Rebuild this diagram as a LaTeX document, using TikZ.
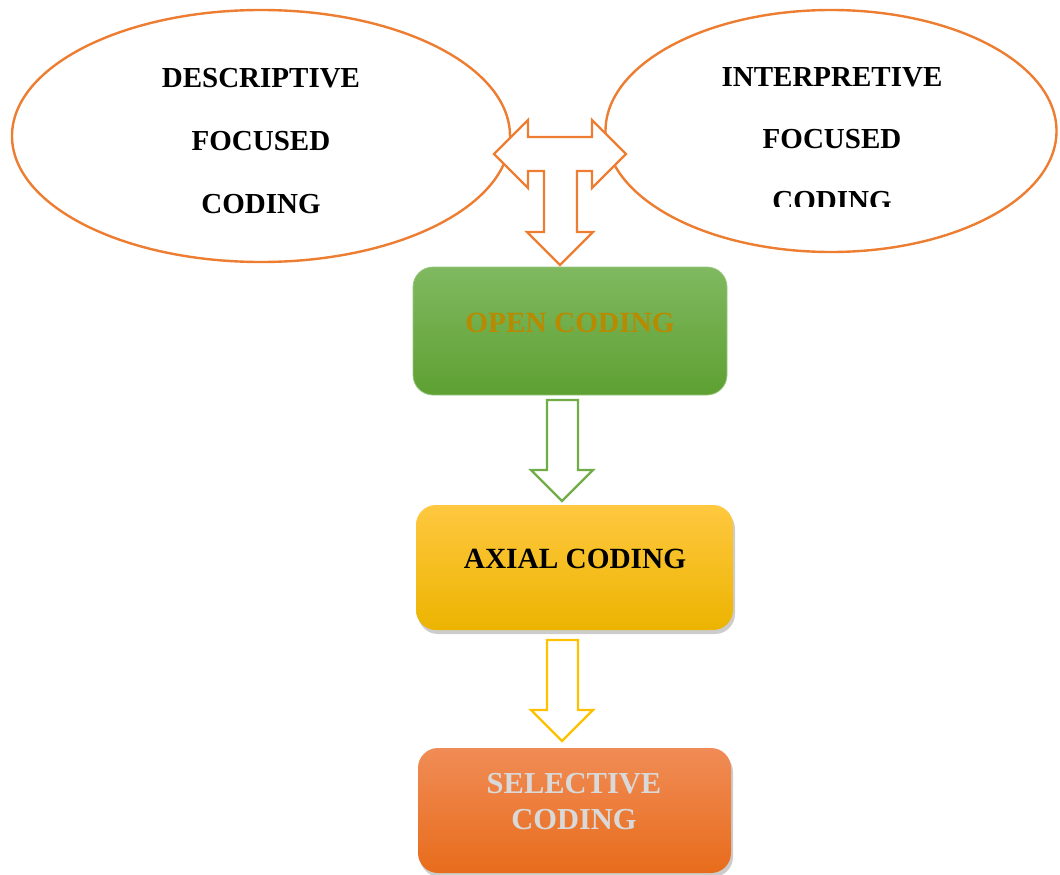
\documentclass[tikz,border=0pt]{standalone}
\usepackage{fontspec}
\setmainfont{Liberation Serif}
\usetikzlibrary{shapes.geometric,shadows}
\definecolor{orln}{HTML}{ED7D31}
\definecolor{grln}{HTML}{70AD47}
\definecolor{yeln}{HTML}{FFC000}
\definecolor{grtop}{HTML}{80B960}
\definecolor{grbot}{HTML}{5EA032}
\definecolor{yetop}{HTML}{FFC840}
\definecolor{yebot}{HTML}{ECB400}
\definecolor{ortop}{HTML}{F08C56}
\definecolor{orbot}{HTML}{E86C1C}
\definecolor{goldtx}{HTML}{B88A00}
\definecolor{greytx}{HTML}{D9D9D9}
\tikzset{
  oval/.style={ellipse, draw=orln, line width=2.4pt, fill=white, inner sep=0pt},
  elltext/.style={anchor=base, font=\fontsize{29}{34}\selectfont\bfseries, text=black, inner sep=0pt},
  boxtext/.style={anchor=base, font=\fontsize{29.3}{34}\selectfont\bfseries, inner sep=0pt, align=center},
  stagebox/.style={rectangle, rounded corners=20pt, inner sep=0pt},
  boxshadow/.style={drop shadow={opacity=0.4, shadow xshift=2pt, shadow yshift=-4pt}},
  blockarrow/.style={line width=2.4pt, fill=white, line join=miter}
}
\begin{document}
\begin{tikzpicture}[x=1pt,y=-1pt]
\useasboundingbox (0,0) rectangle (1060,875);
% ellipses
\node[oval, minimum width=498pt, minimum height=252pt] (desc) at (261,136) {};
\node[oval, minimum width=451pt, minimum height=242pt] (interp) at (831,131) {};
\node[elltext] (d1) at (261,87) {DESCRIPTIVE};
\node[elltext] (d2) at (261,150) {FOCUSED};
\node[elltext] (d3) at (261,213) {CODING};
\node[elltext] (i1) at (832,86) {INTERPRETIVE};
\node[elltext] (i2) at (832,148) {FOCUSED};
\begin{scope}
\clip (600,0) rectangle (1060,206);
\node[elltext] (i3) at (832,210) {CODING};
\end{scope}
% T-shaped double/down arrow
\draw[blockarrow, draw=orln] (494,154) -- (528,120) -- (528,137) -- (592,137) -- (592,120)
  -- (626,154) -- (592,188) -- (592,171) -- (577,171) -- (577,232) -- (593,232)
  -- (560,265) -- (527,232) -- (544,232) -- (544,171) -- (528,171) -- (528,188) -- cycle;
% boxes
\node[stagebox, draw=grtop!80!white, line width=0.8pt, top color=grtop, bottom color=grbot,
  minimum width=314pt, minimum height=128pt] (open) at (570,331) {};
\node[boxtext, text=goldtx] (opent) at (570,332) {OPEN CODING};
\node[stagebox, top color=yetop, bottom color=yebot, boxshadow,
  minimum width=317pt, minimum height=125pt] (axial) at (574.5,567.5) {};
\node[boxtext, text=black] (axialt) at (575,568) {AXIAL CODING};
\node[stagebox, top color=ortop, bottom color=orbot, boxshadow,
  minimum width=313pt, minimum height=125pt] (sel) at (574.5,810.5) {};
\node[boxtext, text=greytx, font=\fontsize{30.5}{36}\selectfont\bfseries] (selt1) at (574,793) {SELECTIVE};
\node[boxtext, text=greytx, font=\fontsize{30.5}{36}\selectfont\bfseries] (selt2) at (574,829) {CODING};
% down arrows
\draw[blockarrow, draw=grln] (547,400) -- (578,400) -- (578,470) -- (593,470) -- (562,501)
  -- (531,470) -- (547,470) -- cycle;
\draw[blockarrow, draw=yeln] (547,640) -- (578,640) -- (578,710) -- (593,710) -- (562,741)
  -- (531,710) -- (547,710) -- cycle;
\end{tikzpicture}
\end{document}
